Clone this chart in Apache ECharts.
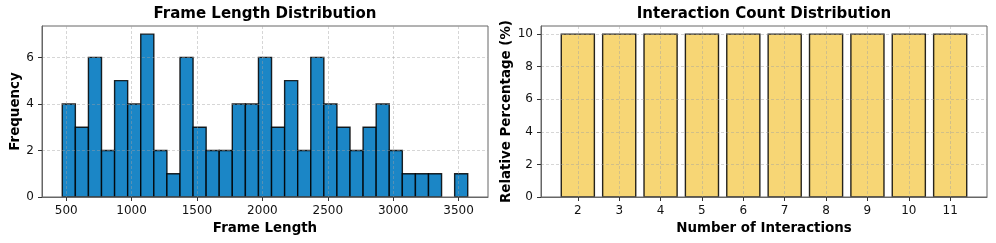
<!DOCTYPE html>
<html><head><meta charset="utf-8">
<script src="https://cdn.jsdelivr.net/npm/echarts@6/dist/echarts.min.js"></script>
<style>html,body{margin:0;padding:0;background:#fff}#c{width:996px;height:243px}</style>
</head><body><div id="c"></div>
<script>
// Left: histogram of frame lengths
const binEdges = [470,570,670,770,870,970,1070,1170,1270,1370,1470,1570,1670,1770,1870,1970,2070,2170,2270,2370,2470,2570,2670,2770,2870,2970,3070,3170,3270,3370,3470,3570];
const binCounts = [4,3,6,2,5,4,7,2,1,6,3,2,2,4,4,6,3,5,2,6,4,3,2,3,4,2,1,1,1,0,1];
const frameTicks = [500,1000,1500,2000,2500,3000,3500];
const freqTicks = [0,2,4,6];
// Right: interaction count distribution
const interactions = [2,3,4,5,6,7,8,9,10,11];
const percentages = [10,10,10,10,10,10,10,10,10,10];
const pctTicks = [0,2,4,6,8,10];
const barWidthUnits = 0.8;

const histData = binCounts.map((c,i)=>[binEdges[i], binEdges[i+1], c]);
const pctData = interactions.map((k,i)=>[k - barWidthUnits/2, k + barWidthUnits/2, percentages[i]]);

const FONT = 'DejaVu Sans';
function rectRenderer(fill){
  return function(params, api){
    if (api.value(2) <= 0) return null;
    const p0 = api.coord([api.value(0), api.value(2)]);
    const p1 = api.coord([api.value(1), 0]);
    return {type:'rect', shape:{x:p0[0], y:p0[1], width:p1[0]-p0[0], height:p1[1]-p0[1]},
      style:{fill:fill, stroke:'rgba(0,0,0,0.85)', lineWidth:1.4}};
  };
}
const plain = v => String(v);
const gridLine = {show:true, lineStyle:{color:'rgba(160,160,160,0.55)', type:[3,2], width:0.8}};
const axisLineS = {show:true, lineStyle:{color:'#666', width:1}};
const tickS = {show:true, length:4, lineStyle:{color:'#333', width:1}};
const labelS = {color:'#111', fontFamily:FONT, fontSize:12, formatter:plain};
const nameS = {color:'#000', fontFamily:FONT, fontSize:13.4, fontWeight:'bold'};
const titleS = {fontFamily:FONT, fontSize:15, fontWeight:'bold', color:'#000'};

const chart = echarts.init(document.getElementById('c'), null, {renderer:'canvas'});
chart.setOption({
  animation:false,
  title:[
    {text:'Frame Length Distribution', left:265, top:7, textAlign:'center', padding:0, textStyle:titleS},
    {text:'Interaction Count Distribution', left:764, top:7, textAlign:'center', padding:0, textStyle:titleS}
  ],
  grid:[
    {left:42, right:508, top:26, bottom:46, show:true, borderColor:'#666', borderWidth:1, backgroundColor:'transparent'},
    {left:541, right:9, top:26, bottom:46, show:true, borderColor:'#666', borderWidth:1, backgroundColor:'transparent'}
  ],
  xAxis:[
    {type:'value', gridIndex:0, min:315, max:3725, name:'Frame Length', nameLocation:'middle', nameGap:22, nameTextStyle:nameS,
     axisLine:axisLineS, axisTick:Object.assign({customValues:frameTicks}, tickS),
     axisLabel:Object.assign({customValues:frameTicks, margin:8}, labelS), splitLine:gridLine},
    {type:'value', gridIndex:1, min:1.11, max:11.89, name:'Number of Interactions', nameLocation:'middle', nameGap:22, nameTextStyle:nameS,
     axisLine:axisLineS, axisTick:Object.assign({customValues:interactions}, tickS),
     axisLabel:Object.assign({customValues:interactions, margin:8}, labelS), splitLine:gridLine}
  ],
  yAxis:[
    {type:'value', gridIndex:0, min:0, max:7.35, name:'Frequency', nameLocation:'middle', nameGap:20, nameTextStyle:nameS,
     axisLine:axisLineS, axisTick:Object.assign({customValues:freqTicks}, tickS),
     axisLabel:Object.assign({customValues:freqTicks, margin:8}, labelS), splitLine:gridLine},
    {type:'value', gridIndex:1, min:0, max:10.5, name:'Relative Percentage (%)', nameLocation:'middle', nameGap:28, nameTextStyle:nameS,
     axisLine:axisLineS, axisTick:Object.assign({customValues:pctTicks}, tickS),
     axisLabel:Object.assign({customValues:pctTicks, margin:8}, labelS), splitLine:gridLine}
  ],
  series:[
    {type:'custom', xAxisIndex:0, yAxisIndex:0, z:-1, data:histData, renderItem:rectRenderer('#1b86c6'), encode:{x:[0,1], y:2}},
    {type:'custom', xAxisIndex:1, yAxisIndex:1, z:-1, data:pctData, renderItem:rectRenderer('#f7d675'), encode:{x:[0,1], y:2}}
  ]
});
</script></body></html>
